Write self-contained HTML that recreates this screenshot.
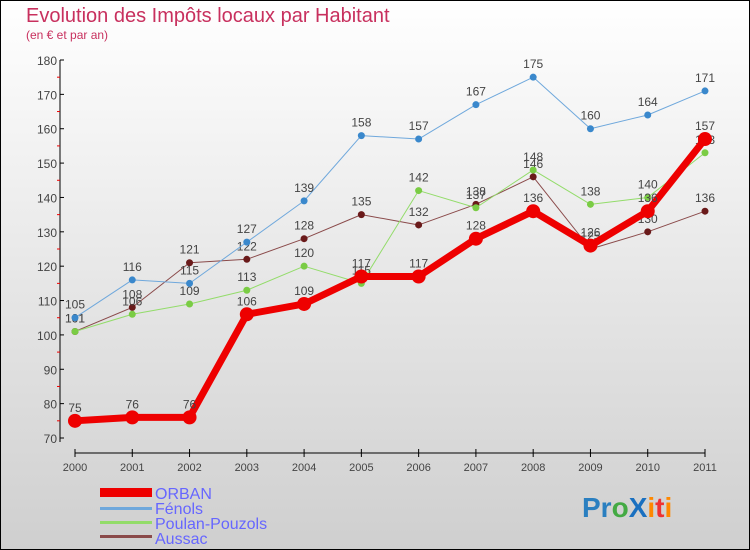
<!DOCTYPE html>
<html><head><meta charset="utf-8"><style>
body{margin:0;}
#wrap{width:750px;height:550px;position:relative;overflow:hidden;font-family:"Liberation Sans",sans-serif;}
</style></head><body>
<div id="wrap">
<svg id="chart" width="750" height="550">
<defs><linearGradient id="bg" x1="0" y1="0" x2="0" y2="1"><stop offset="0" stop-color="#ffffff"/><stop offset="1" stop-color="#cfcfcf"/></linearGradient></defs>
<rect x="0.5" y="0.5" width="749" height="549" fill="url(#bg)" stroke="#000"/>
<text x="26" y="22" font-size="20" fill="#c8305e">Evolution des Impôts locaux par Habitant</text>
<text x="26" y="39" font-size="12" fill="#c8305e">(en € et par an)</text>
<g id="axes"></g><g id="series"></g>
<g font-size="16" fill="#6666ff">
<rect x="100" y="488" width="52" height="9" fill="#ee0000"/>
<text x="155" y="499">ORBAN</text>
<rect x="100" y="507" width="52" height="3" fill="#6fa8dc"/>
<text x="155" y="514">Fénols</text>
<rect x="100" y="521" width="52" height="3" fill="#93dc6a"/>
<text x="155" y="529">Poulan-Pouzols</text>
<rect x="100" y="535" width="52" height="3" fill="#8a4a4a"/>
<text x="155" y="544">Aussac</text>
</g>
<g font-size="28" font-weight="bold">
<text x="582" y="517"><tspan fill="#2a7fc0">Pr</tspan><tspan fill="#44aa44">o</tspan><tspan fill="#1a70c0">X</tspan><tspan fill="#ff8800">i</tspan><tspan fill="#ee3333">t</tspan><tspan fill="#ff8800">i</tspan></text>
</g>
</svg>
</div>
<script>
const years=[2000,2001,2002,2003,2004,2005,2006,2007,2008,2009,2010,2011];
const yTicks=[70,80,90,100,110,120,130,140,150,160,170,180];
const orban=[75,76,76,106,109,117,117,128,136,126,136,157];
const fenols=[105,116,115,127,139,158,157,167,175,160,164,171];
const poulan=[101,106,109,113,120,115,142,137,148,138,140,153];
const aussac=[101,108,121,122,128,135,132,138,146,125,130,136];
const NS="http://www.w3.org/2000/svg";
const x0=75,x1=705,yTop=60,yBot=438,vMin=70,vMax=180;
function xs(i){return x0+(x1-x0)*i/(years.length-1);}
function ys(v){return yBot-(v-vMin)/(vMax-vMin)*(yBot-yTop);}
function mk(t,a,p){const e=document.createElementNS(NS,t);for(const k in a)e.setAttribute(k,a[k]);(p||document.getElementById('series')).appendChild(e);return e;}
const ax=document.getElementById('axes');
let e=mk('line',{x1:60,y1:yTop,x2:60,y2:yBot+4,stroke:'#000'},ax);


e=mk('line',{x1:x0,y1:453,x2:x1,y2:453,stroke:'#000'},ax);


yTicks.forEach((v,i)=>{
 mk('line',{x1:60,y1:ys(v),x2:64,y2:ys(v),stroke:'#000'},ax);
 if(i<yTicks.length-1)mk('line',{x1:57,y1:ys(v+5),x2:60,y2:ys(v+5),stroke:'#e00'},ax);
 const t=mk('text',{x:57,y:ys(v)+5,'text-anchor':'end','font-size':12,fill:'#444'},ax);
 t.textContent=v;
 
 
});
years.forEach((y,i)=>{
 mk('line',{x1:xs(i),y1:449,x2:xs(i),y2:457,stroke:'#000'},ax);
 const t=mk('text',{x:xs(i),y:471,'text-anchor':'middle','font-size':11,fill:'#444'},ax);
 t.textContent=y;
 
 
});
function draw(data,color,width,r,mcol,name){
 const g=mk('g',{});
 
 
 const pl=mk('polyline',{points:data.map((v,i)=>xs(i)+','+ys(v)).join(' '),fill:'none',stroke:color,'stroke-width':width,'stroke-linejoin':'round'},g);
 
 
 data.forEach((v,i)=>{
  const c=mk('circle',{cx:xs(i),cy:ys(v),r:r,fill:mcol},g);
  
  
  const t=mk('text',{x:xs(i),y:ys(v)-9,'text-anchor':'middle','font-size':12,fill:'#444'},g);
  t.textContent=v;
  
  
 });
}
draw(aussac,'#8a4a4a',1,3.5,'#6a1a1a','aussac');
draw(poulan,'#93dc6a',1,3.5,'#7acc44','poulan');
draw(fenols,'#6fa8dc',1,3.5,'#3a88cc','fenols');
draw(orban,'#ee0000',7,7,'#ee0000','orban');
</script>
</body></html>
